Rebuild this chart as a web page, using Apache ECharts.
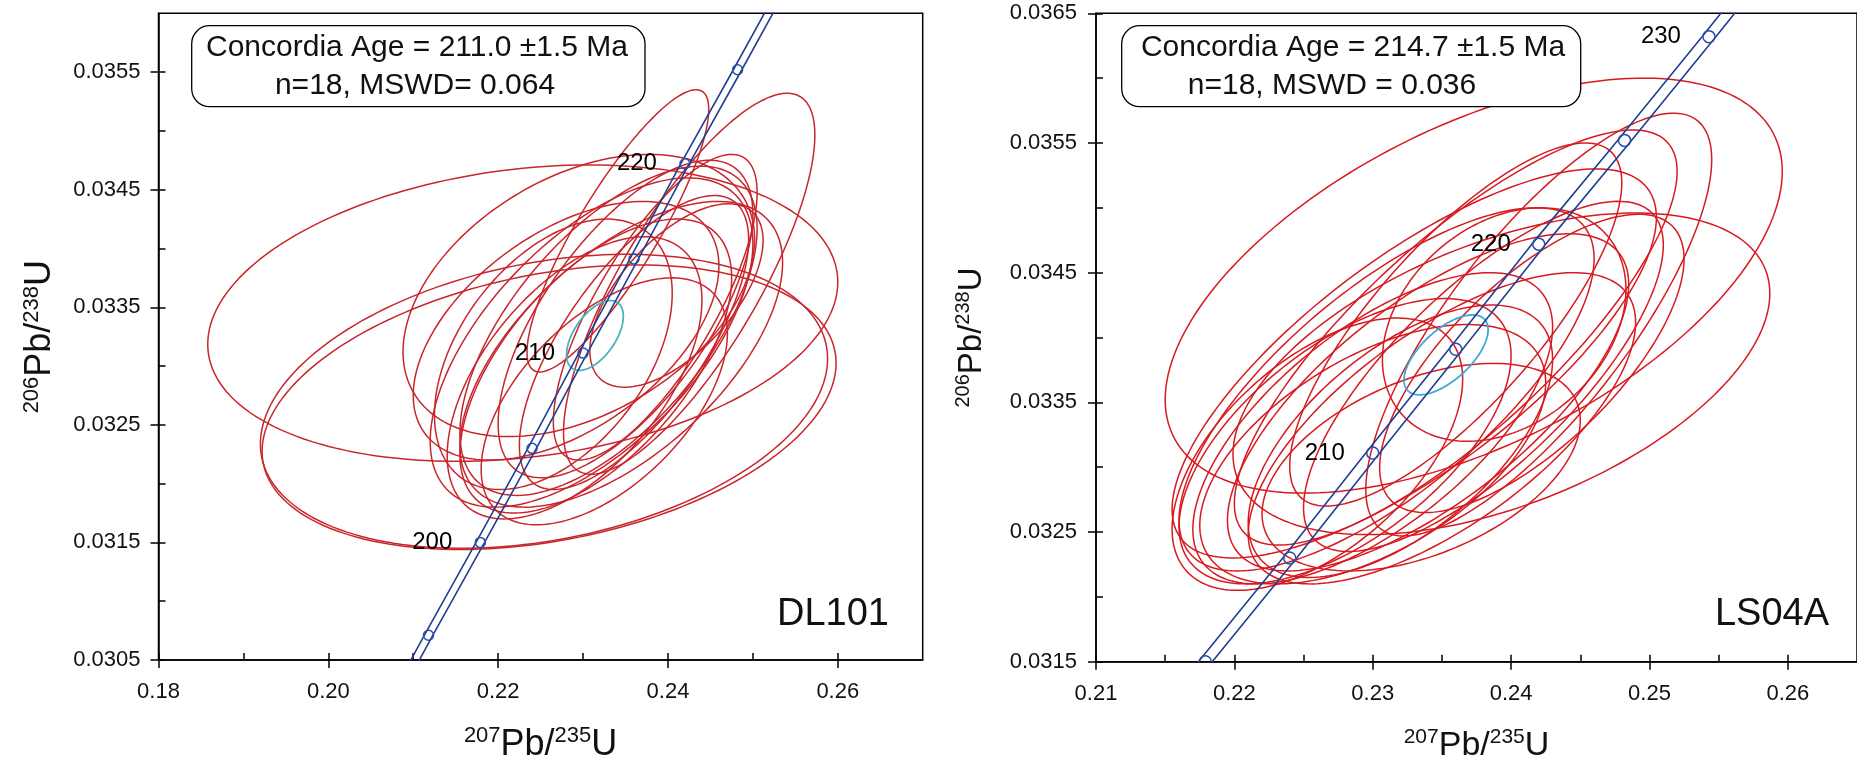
<!DOCTYPE html>
<html><head><meta charset="utf-8">
<script src="https://cdn.jsdelivr.net/npm/echarts/dist/echarts.min.js"></script>
<style>html,body{margin:0;padding:0;background:#fff}#c{width:1857px;height:768px}</style>
</head><body><div id="c"></div>
<script>
const FF = '"Liberation Sans", Arial, Helvetica, sans-serif';

// ---- Concordia curve, age marks every 5 Ma ----
const concAge  = [190, 195, 200, 205, 210, 215, 220, 225, 230, 235];
const concX    = [0.2058, 0.2118, 0.2179, 0.2240, 0.2300, 0.2360, 0.2420, 0.2482, 0.2543, 0.2604];
const concY    = [0.02991, 0.03071, 0.03150, 0.03230, 0.03311, 0.03391, 0.03472, 0.03552, 0.03632, 0.03713];
const bandLoX  = [0.2053, 0.2113, 0.2174, 0.2235, 0.2295, 0.2355, 0.2415, 0.2477, 0.2538, 0.2599];
const bandHiX  = [0.2063, 0.2123, 0.2184, 0.2245, 0.2305, 0.2365, 0.2425, 0.2487, 0.2548, 0.2609];

// ---- DL101 error ellipses: centre x, centre y, half-width x, half-height y, rho ----
const dlCX  = [0.2229, 0.2254, 0.2260, 0.2341, 0.2425, 0.2295, 0.2310, 0.2330, 0.2345, 0.2315, 0.2350, 0.2290, 0.2360, 0.2280, 0.2410, 0.2385, 0.2265, 0.2325];
const dlCY  = [0.03345, 0.03270, 0.03265, 0.03415, 0.03370, 0.03360, 0.03320, 0.03330, 0.03310, 0.03300, 0.03340, 0.03290, 0.03320, 0.03330, 0.03360, 0.03350, 0.03310, 0.03270];
const dlAX  = [0.0371, 0.0334, 0.0338, 0.0107, 0.0148, 0.0207, 0.0190, 0.0175, 0.0190, 0.0160, 0.0150, 0.0150, 0.0135, 0.0180, 0.0102, 0.0120, 0.0140, 0.0145];
const dlAY  = [0.00126, 0.00125, 0.00121, 0.00120, 0.00162, 0.00120, 0.00140, 0.00140, 0.00130, 0.00125, 0.00135, 0.00120, 0.00125, 0.00110, 0.00078, 0.00130, 0.00115, 0.00105];
const dlRho = [0.21, 0.29, 0.31, 0.86, 0.78, 0.40, 0.60, 0.62, 0.60, 0.60, 0.66, 0.55, 0.70, 0.50, 0.60, 0.75, 0.45, 0.55];
const dlMean = [0.2314, 0.03326, 0.00334, 0.000297, 0.55];
const dlLabeled = [200, 210, 220];
const dlXMajor = [0.18, 0.20, 0.22, 0.24, 0.26];
const dlXMinor = [0.19, 0.21, 0.23, 0.25];
const dlYMajor = [0.0305, 0.0315, 0.0325, 0.0335, 0.0345, 0.0355];
const dlYMinor = [0.0310, 0.0320, 0.0330, 0.0340, 0.0350];

// ---- LS04A error ellipses ----
const lsCX  = [0.2373, 0.2393, 0.2420, 0.2360, 0.2330, 0.2310, 0.2300, 0.2340, 0.2350, 0.2320, 0.2300, 0.2380, 0.2280, 0.2360, 0.2395, 0.2260, 0.2415, 0.2335];
const lsCY  = [0.03440, 0.03372, 0.03410, 0.03400, 0.03380, 0.03360, 0.03330, 0.03350, 0.03330, 0.03320, 0.03310, 0.03370, 0.03320, 0.03410, 0.03410, 0.03310, 0.03380, 0.03300];
const lsAX  = [0.0223, 0.0194, 0.0125, 0.0160, 0.0175, 0.0150, 0.0130, 0.0145, 0.0140, 0.0110, 0.0125, 0.0130, 0.0120, 0.0120, 0.0088, 0.0105, 0.0110, 0.0115];
const lsAY  = [0.00160, 0.00124, 0.00163, 0.00160, 0.00150, 0.00140, 0.00120, 0.00130, 0.00120, 0.00105, 0.00100, 0.00135, 0.00110, 0.00140, 0.00090, 0.00105, 0.00115, 0.00080];
const lsRho = [0.55, 0.50, 0.78, 0.80, 0.75, 0.72, 0.65, 0.70, 0.68, 0.60, 0.55, 0.75, 0.60, 0.78, 0.30, 0.55, 0.70, 0.45];
const lsMean = [0.2353, 0.033866, 0.00304, 0.000308, 0.63];
const lsLabeled = [210, 220, 230];
const lsXMajor = [0.21, 0.22, 0.23, 0.24, 0.25, 0.26];
const lsXMinor = [0.215, 0.225, 0.235, 0.245, 0.255];
const lsYMajor = [0.0315, 0.0325, 0.0335, 0.0345, 0.0355, 0.0365];
const lsYMinor = [0.0320, 0.0330, 0.0340, 0.0350, 0.0360];

const chart = echarts.init(document.getElementById('c'), null, {renderer: 'canvas'});

function rich(big, small) {
  return {
    b: {fontSize: big, fontFamily: FF, color: '#111', lineHeight: big + 4},
    s: {fontSize: small, fontFamily: FF, color: '#111', lineHeight: small, verticalAlign: 'top'}
  };
}

function axes(dim, gi, min, max, majors, minors, dec, name, gap, bigF, smallF, labelMargin) {
  const main = {
    type: 'value', gridIndex: gi, min: min, max: max,
    position: dim === 'x' ? 'bottom' : 'left',
    axisLine: {show: true, onZero: false, lineStyle: {color: '#000', width: 1.5}},
    axisTick: {show: true, inside: false, length: 8, customValues: majors, lineStyle: {color: '#000', width: 1.5}},
    axisLabel: {show: true, customValues: majors, formatter: v => v.toFixed(dec), fontSize: 22, fontFamily: FF, color: '#111', margin: labelMargin},
    splitLine: {show: false},
    name: name, nameLocation: 'middle', nameGap: gap,
    nameTextStyle: {rich: rich(bigF, smallF)}
  };
  if (dim === 'y') main.nameRotate = 90;
  const minor = {
    type: 'value', gridIndex: gi, min: min, max: max,
    position: dim === 'x' ? 'bottom' : 'left',
    axisLine: {show: false, onZero: false},
    axisTick: {show: true, inside: true, length: 7, customValues: majors.concat(minors), lineStyle: {color: '#000', width: 1.5}},
    axisLabel: {show: false},
    splitLine: {show: false}
  };
  return [main, minor];
}

function ellipseSeries(gi, cxs, cys, axs, ays, rhos, color, width, z) {
  return {
    type: 'custom', xAxisIndex: gi * 2, yAxisIndex: gi * 2, clip: true, z: z, silent: true,
    data: cxs.map((c, i) => [c, cys[i], axs[i], ays[i], rhos[i]]),
    encode: {x: 0, y: 1},
    renderItem: function (params, api) {
      const cx = api.value(0), cy = api.value(1), a = api.value(2), b = api.value(3), r = api.value(4);
      const s = Math.sqrt(1 - r * r), pts = [];
      for (let i = 0; i <= 180; i++) {
        const t = i / 180 * Math.PI * 2;
        pts.push(api.coord([cx + a * Math.cos(t), cy + b * (r * Math.cos(t) + s * Math.sin(t))]));
      }
      return {type: 'polygon', shape: {points: pts}, style: {fill: 'none', stroke: color, lineWidth: width}};
    }
  };
}

function concordiaSeries(gi, labeled, rad, labelGap) {
  const lo = concAge.map((a, i) => [bandLoX[i], concY[i]]);
  const hi = concAge.map((a, i) => [bandHiX[i], concY[i]]);
  const lineStyle = {color: '#1f3f93', width: 1.6};
  return [
    {type: 'line', xAxisIndex: gi * 2, yAxisIndex: gi * 2, data: lo, showSymbol: false, symbol: 'none', lineStyle: lineStyle, z: 5, clip: true, silent: true},
    {type: 'line', xAxisIndex: gi * 2, yAxisIndex: gi * 2, data: hi, showSymbol: false, symbol: 'none', lineStyle: lineStyle, z: 5, clip: true, silent: true},
    {type: 'custom', xAxisIndex: gi * 2, yAxisIndex: gi * 2, clip: true, z: 6, silent: true,
      data: concAge.map((a, i) => [concX[i], concY[i], a]),
      encode: {x: 0, y: 1},
      renderItem: function (params, api) {
        const p = api.coord([api.value(0), api.value(1)]);
        const age = api.value(2);
        const children = [{type: 'circle', shape: {cx: p[0], cy: p[1], r: rad},
          style: {fill: 'none', stroke: '#2a4ea6', lineWidth: 1.5}}];
        if (labeled.indexOf(age) >= 0) {
          children.push({type: 'text', x: p[0] - labelGap, y: p[1],
            style: {text: String(age), font: '24px ' + FF, fill: '#000', align: 'right', verticalAlign: 'middle'}});
        }
        return {type: 'group', children: children};
      }
    }
  ];
}

const xNameL = '{s|207}{b|Pb/}{s|235}{b|U}';
const yNameL = '{s|206}{b|Pb/}{s|238}{b|U}';

const xA = [].concat(
  axes('x', 0, 0.18, 0.27, dlXMajor, dlXMinor, 2, xNameL, 65, 36, 22, 21),
  axes('x', 1, 0.21, 0.265, lsXMajor, lsXMinor, 2, xNameL, 65, 34, 21, 21)
);
const yA = [].concat(
  axes('y', 0, 0.0305, 0.0360, dlYMajor, dlYMinor, 4, yNameL, 98, 36, 22, 18),
  axes('y', 1, 0.0315, 0.0365, lsYMajor, lsYMinor, 4, yNameL, 106, 33, 20, 19)
);

const series = [].concat(
  [ellipseSeries(0, dlCX, dlCY, dlAX, dlAY, dlRho, '#c8262c', 1.5, 2),
   ellipseSeries(0, [dlMean[0]], [dlMean[1]], [dlMean[2]], [dlMean[3]], [dlMean[4]], '#49b3bd', 1.8, 3)],
  concordiaSeries(0, dlLabeled, 5, 28),
  [ellipseSeries(1, lsCX, lsCY, lsAX, lsAY, lsRho, '#d61a20', 1.5, 2),
   ellipseSeries(1, [lsMean[0]], [lsMean[1]], [lsMean[2]], [lsMean[3]], [lsMean[4]], '#3ea9d6', 1.8, 3)],
  concordiaSeries(1, lsLabeled, 6, 28)
);

function txt(x, y, text, size, align) {
  return {type: 'text', x: x, y: y, z: 101,
    style: {text: text, font: size + 'px ' + FF, fill: '#111', align: align, textAlign: align, verticalAlign: 'middle', textVerticalAlign: 'middle'}};
}

const option = {
  animation: false,
  backgroundColor: '#fff',
  grid: [
    {left: 158.5, top: 13.3, width: 764.2, height: 648.4, show: true, borderColor: '#000', borderWidth: 1.5, backgroundColor: 'transparent', containLabel: false},
    {left: 1096, top: 13.3, width: 770, height: 648.4, show: true, borderColor: '#000', borderWidth: 1.5, backgroundColor: 'transparent', containLabel: false}
  ],
  xAxis: xA,
  yAxis: yA,
  series: series,
  graphic: [
    {type: 'rect', z: 100, shape: {x: 191.7, y: 25.7, width: 453.3, height: 81, r: 18}, style: {fill: '#fff', stroke: '#000', lineWidth: 1.3}},
    txt(417, 48, 'Concordia Age = 211.0 ±1.5 Ma', 30, 'center'),
    txt(415, 85.5, 'n=18, MSWD= 0.064', 30, 'center'),
    {type: 'rect', z: 100, shape: {x: 1121.7, y: 25.7, width: 459, height: 81, r: 18}, style: {fill: '#fff', stroke: '#000', lineWidth: 1.3}},
    txt(1353, 48, 'Concordia Age = 214.7 ±1.5 Ma', 30, 'center'),
    txt(1332, 85.5, 'n=18, MSWD = 0.036', 30, 'center'),
    txt(889, 615, 'DL101', 38, 'right'),
    txt(1829, 615, 'LS04A', 38, 'right')
  ]
};
chart.setOption(option);
</script></body></html>
